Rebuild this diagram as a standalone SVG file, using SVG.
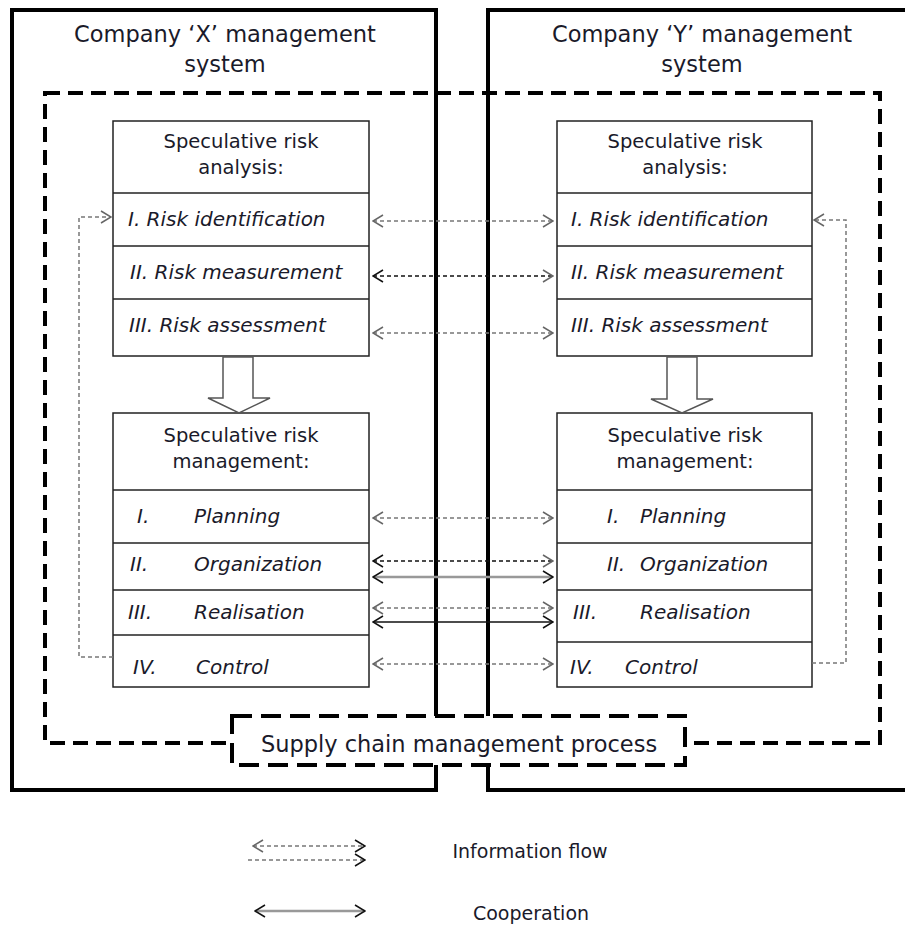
<svg xmlns="http://www.w3.org/2000/svg" width="905" height="929" viewBox="0 0 905 929">
<style>
text{font-family:"DejaVu Sans","Verdana",sans-serif;fill:#1a1a2a}
.title{font-size:22.5px}
.hdr{font-size:19.5px}
.row{font-size:20px;font-style:italic}
.leg{font-size:19px}
.sys{fill:none;stroke:#000;stroke-width:4}
.dash{fill:none;stroke:#000;stroke-width:4;stroke-dasharray:15 8}
.box{fill:#fff;stroke:#222;stroke-width:1.5}
.div{stroke:#222;stroke-width:1.5}
.ig{stroke:#777;stroke-width:1.5;stroke-dasharray:4 3;fill:none}
.ib{stroke:#111;stroke-width:1.5;stroke-dasharray:4 3;fill:none}
.cg{stroke:#999;stroke-width:2.5;fill:none}
.cb{stroke:#111;stroke-width:1.5;fill:none}
.blk{fill:#fff;stroke:#555;stroke-width:1.5}
</style>
<defs>
<marker id="mg" viewBox="0 0 12 14" refX="11" refY="7" markerWidth="12" markerHeight="14" markerUnits="userSpaceOnUse" orient="auto-start-reverse">
<path d="M1,1 L11,7 L1,13" fill="none" stroke="#666" stroke-width="1.5"/>
</marker>
<marker id="mb" viewBox="0 0 12 14" refX="11" refY="7" markerWidth="12" markerHeight="14" markerUnits="userSpaceOnUse" orient="auto-start-reverse">
<path d="M1,1 L11,7 L1,13" fill="none" stroke="#111" stroke-width="1.5"/>
</marker>
</defs>

<g id="company-x">
<rect class="sys" x="12" y="10" width="424" height="780"/>
<text class="title" x="225" y="42" text-anchor="middle">Company ‘X’ management</text>
<text class="title" x="225" y="72" text-anchor="middle">system</text>
</g>
<g id="company-y">
<path class="sys" d="M908,10 H488 V790 H908"/>
<text class="title" x="702" y="42" text-anchor="middle">Company ‘Y’ management</text>
<text class="title" x="702" y="72" text-anchor="middle">system</text>
</g>
<g id="scm-process">
<rect class="dash" x="45" y="93" width="835" height="650"/>
</g>

<g id="x-analysis">
<rect class="box" x="113" y="121" width="256" height="235"/>
<line class="div" x1="113" y1="193" x2="369" y2="193"/>
<line class="div" x1="113" y1="246" x2="369" y2="246"/>
<line class="div" x1="113" y1="299" x2="369" y2="299"/>
<text class="hdr" x="241" y="148" text-anchor="middle">Speculative risk</text>
<text class="hdr" x="241" y="174" text-anchor="middle">analysis:</text>
<text class="row" x="128" y="226">I. Risk identification</text>
<text class="row" x="130" y="279">II. Risk measurement</text>
<text class="row" x="129" y="332">III. Risk assessment</text>
</g>
<g id="x-management">
<rect class="box" x="113" y="413" width="256" height="274"/>
<line class="div" x1="113" y1="490" x2="369" y2="490"/>
<line class="div" x1="113" y1="543" x2="369" y2="543"/>
<line class="div" x1="113" y1="590" x2="369" y2="590"/>
<line class="div" x1="113" y1="635" x2="369" y2="635"/>
<text class="hdr" x="241" y="442" text-anchor="middle">Speculative risk</text>
<text class="hdr" x="241" y="468" text-anchor="middle">management:</text>
<text class="row" y="523"><tspan x="137">I.</tspan><tspan x="194">Planning</tspan></text>
<text class="row" y="571"><tspan x="130">II.</tspan><tspan x="194">Organization</tspan></text>
<text class="row" y="619"><tspan x="128">III.</tspan><tspan x="194">Realisation</tspan></text>
<text class="row" y="674"><tspan x="133">IV.</tspan><tspan x="196">Control</tspan></text>
</g>
<g id="y-analysis">
<rect class="box" x="557" y="121" width="255" height="235"/>
<line class="div" x1="557" y1="193" x2="812" y2="193"/>
<line class="div" x1="557" y1="246" x2="812" y2="246"/>
<line class="div" x1="557" y1="299" x2="812" y2="299"/>
<text class="hdr" x="685" y="148" text-anchor="middle">Speculative risk</text>
<text class="hdr" x="685" y="174" text-anchor="middle">analysis:</text>
<text class="row" x="571" y="226">I. Risk identification</text>
<text class="row" x="571" y="279">II. Risk measurement</text>
<text class="row" x="571" y="332">III. Risk assessment</text>
</g>
<g id="y-management">
<rect class="box" x="557" y="413" width="255" height="274"/>
<line class="div" x1="557" y1="490" x2="812" y2="490"/>
<line class="div" x1="557" y1="543" x2="812" y2="543"/>
<line class="div" x1="557" y1="590" x2="812" y2="590"/>
<line class="div" x1="557" y1="642" x2="812" y2="642"/>
<text class="hdr" x="685" y="442" text-anchor="middle">Speculative risk</text>
<text class="hdr" x="685" y="468" text-anchor="middle">management:</text>
<text class="row" y="523"><tspan x="607">I.</tspan><tspan x="640">Planning</tspan></text>
<text class="row" y="571"><tspan x="607">II.</tspan><tspan x="640">Organization</tspan></text>
<text class="row" y="619"><tspan x="573">III.</tspan><tspan x="640">Realisation</tspan></text>
<text class="row" y="674"><tspan x="570">IV.</tspan><tspan x="625">Control</tspan></text>
</g>

<g id="connectors">
<polygon class="blk" points="223,357 253,357 253,398 270,398 239,413 208,398 223,398"/>
<polygon class="blk" points="667,357 697,357 697,399 713,399 682,413 651,399 667,399"/>
<line class="ig" x1="373" y1="221" x2="553" y2="221" marker-start="url(#mg)" marker-end="url(#mg)"/>
<line class="ib" x1="373" y1="276" x2="553" y2="276" marker-start="url(#mb)" marker-end="url(#mg)"/>
<line class="ig" x1="373" y1="333" x2="553" y2="333" marker-start="url(#mg)" marker-end="url(#mg)"/>
<line class="ig" x1="373" y1="518" x2="553" y2="518" marker-start="url(#mg)" marker-end="url(#mg)"/>
<line class="ib" x1="373" y1="561" x2="553" y2="561" marker-start="url(#mb)" marker-end="url(#mg)"/>
<line class="cg" x1="373" y1="577" x2="553" y2="577" marker-start="url(#mb)" marker-end="url(#mb)"/>
<line class="ig" x1="373" y1="608" x2="553" y2="608" marker-start="url(#mg)" marker-end="url(#mg)"/>
<line class="cb" x1="373" y1="622" x2="553" y2="622" marker-start="url(#mb)" marker-end="url(#mb)"/>
<line class="ig" x1="373" y1="664" x2="553" y2="664" marker-start="url(#mg)" marker-end="url(#mg)"/>
<path class="ig" d="M113,657 H79 V217 H111" marker-end="url(#mg)"/>
<path class="ig" d="M812,663 H846 V220 H814" marker-end="url(#mg)"/>
</g>

<g id="scm-label">
<rect x="232" y="716" width="453" height="49" fill="#fff" stroke="#000" stroke-width="4" stroke-dasharray="20 9"/>
<text x="459" y="752" text-anchor="middle" style="font-size:22.5px">Supply chain management process</text>
</g>

<g id="legend">
<line class="ig" x1="253" y1="846" x2="365" y2="846" marker-start="url(#mg)" marker-end="url(#mb)"/>
<line class="ig" x1="248" y1="860" x2="365" y2="860" marker-end="url(#mb)"/>
<text class="leg" x="530" y="858" text-anchor="middle">Information flow</text>
<line class="cg" x1="255" y1="911" x2="365" y2="911" marker-start="url(#mb)" marker-end="url(#mb)"/>
<text class="leg" x="531" y="920" text-anchor="middle">Cooperation</text>
</g>
</svg>
